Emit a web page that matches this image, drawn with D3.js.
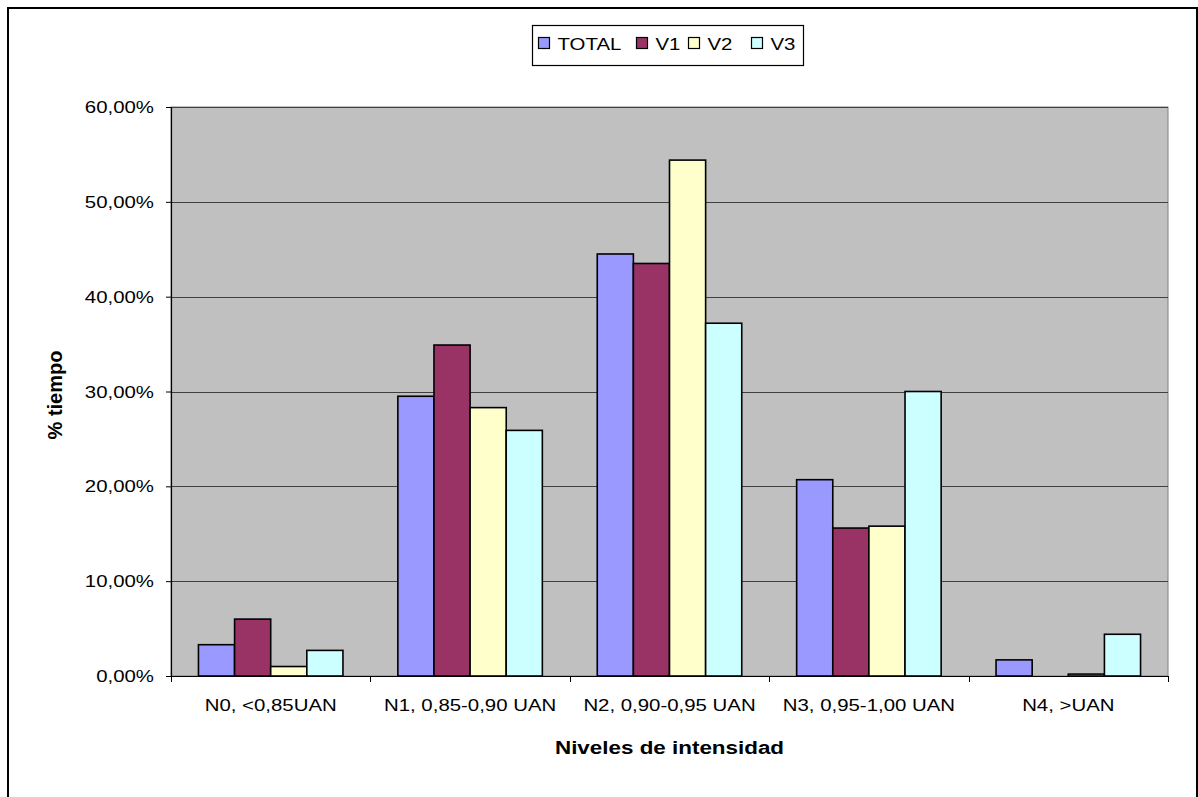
<!DOCTYPE html>
<html>
<head>
<meta charset="utf-8">
<script src="https://cdn.jsdelivr.net/npm/d3@7"></script>
<style>
  html, body { margin: 0; padding: 0; background: #fff; }
  svg { display: block; }
  text { font-family: "Liberation Sans", Arial, sans-serif; fill: #000; }
</style>
</head>
<body>
<svg id="chart" width="1198" height="797"></svg>
<script>
// Percent of time spent at each intensity level
const categories = ["N0, <0,85UAN", "N1, 0,85-0,90 UAN", "N2, 0,90-0,95 UAN", "N3, 0,95-1,00 UAN", "N4, >UAN"];
const seriesNames = ["TOTAL", "V1", "V2", "V3"];
const totalValues = [3.3, 29.5, 44.5, 20.7, 1.7];
const v1Values    = [6.0, 34.9, 43.5, 15.6, 0.0];
const v2Values    = [1.0, 28.3, 54.4, 15.8, 0.2];
const v3Values    = [2.7, 25.9, 37.2, 30.0, 4.4];
const yTicks = [0, 10, 20, 30, 40, 50, 60];
const colors = ["#9999FF", "#993366", "#FFFFCC", "#CCFFFF"];

const seriesValues = [totalValues, v1Values, v2Values, v3Values];

const svg = d3.select("#chart");
const plot = { left: 171, right: 1168, top: 107, bottom: 676 };
const SX = 1.2; // horizontal text stretch

function label(g, x, y, str, opts = {}) {
  return g.append("text")
    .attr("transform", `translate(${x},${y}) scale(${opts.sx || SX},1)`)
    .attr("text-anchor", opts.anchor || "start")
    .style("font-size", (opts.size || 17) + "px")
    .style("font-weight", opts.bold ? "bold" : "normal")
    .text(str);
}

// Outer frame
svg.append("rect")
  .attr("x", 8).attr("y", 8).attr("width", 1189).attr("height", 820)
  .attr("fill", "#fff").attr("stroke", "#000").attr("stroke-width", 2);

const x0 = d3.scaleBand().domain(categories).range([plot.left, plot.right]).paddingInner(0).paddingOuter(0);
const x1 = d3.scaleBand().domain(seriesNames).range([0, x0.bandwidth()]).paddingOuter(0.76).paddingInner(0);
const y = d3.scaleLinear().domain([0, 60]).range([plot.bottom, plot.top]);

// Plot background
svg.append("rect")
  .attr("x", plot.left).attr("y", plot.top)
  .attr("width", plot.right - plot.left).attr("height", plot.bottom - plot.top)
  .attr("fill", "#C0C0C0").attr("stroke", "#808080").attr("stroke-width", 1);

// Gridlines
svg.append("g").selectAll("line")
  .data(yTicks.filter(d => d > 0))
  .join("line")
  .attr("x1", plot.left).attr("x2", plot.right)
  .attr("y1", d => Math.round(y(d)) + 0.5).attr("y2", d => Math.round(y(d)) + 0.5)
  .attr("stroke", "#404040").attr("stroke-width", 1.2);

// Bars
const groups = svg.append("g").selectAll("g")
  .data(categories)
  .join("g")
  .attr("transform", c => `translate(${x0(c)},0)`);

groups.selectAll("rect")
  .data((c, i) => seriesNames.map((s, k) => ({ s, k, v: seriesValues[k][i] })))
  .join("rect")
  .filter(d => d.v > 0)
  .attr("x", d => x1(d.s))
  .attr("y", d => y(d.v))
  .attr("width", x1.bandwidth())
  .attr("height", d => y(0) - y(d.v))
  .attr("fill", d => colors[d.k])
  .attr("stroke", "#000")
  .attr("stroke-width", 1.6);

// Y axis
const yAxis = d3.axisLeft(y).tickValues(yTicks).tickSize(5).tickFormat("");
const yg = svg.append("g").attr("transform", `translate(${plot.left},0)`).call(yAxis);
yg.select(".domain").attr("stroke", "#000").attr("stroke-width", 1.2);
yg.selectAll(".tick line").attr("stroke", "#000");
yTicks.forEach(t => {
  label(svg, plot.left - 17, y(t) + 6, t.toFixed(2).replace(".", ",") + "%", { anchor: "end" });
});

// X axis
svg.append("line")
  .attr("x1", plot.left - 5).attr("x2", plot.right)
  .attr("y1", plot.bottom + 0.5).attr("y2", plot.bottom + 0.5)
  .attr("stroke", "#000").attr("stroke-width", 1.2);
const bounds = categories.map(c => x0(c)).concat([plot.right]);
svg.append("g").selectAll("line")
  .data(bounds)
  .join("line")
  .attr("x1", d => Math.round(d) + 0.5).attr("x2", d => Math.round(d) + 0.5)
  .attr("y1", plot.bottom).attr("y2", plot.bottom + 6)
  .attr("stroke", "#000");
categories.forEach(c => {
  label(svg, x0(c) + x0.bandwidth() / 2, 711, c, { anchor: "middle" });
});

// Axis titles
label(svg, (plot.left + plot.right) / 2, 754, "Niveles de intensidad", { anchor: "middle", bold: true, size: 19, sx: 1.18 });
svg.append("text")
  .attr("transform", `translate(62,395) rotate(-90)`)
  .attr("text-anchor", "middle")
  .style("font-size", "20px")
  .style("font-weight", "bold")
  .text("% tiempo");

// Legend
const lg = svg.append("g");
lg.append("rect")
  .attr("x", 532.5).attr("y", 25.5).attr("width", 271).attr("height", 40)
  .attr("fill", "#fff").attr("stroke", "#000").attr("stroke-width", 1.2);
const legendX = [538.5, 636.5, 688.5, 751.5];
seriesNames.forEach((s, k) => {
  lg.append("rect")
    .attr("x", legendX[k]).attr("y", 37.5).attr("width", 11).attr("height", 11)
    .attr("fill", colors[k]).attr("stroke", "#000").attr("stroke-width", 1.2);
  label(lg, legendX[k] + 19, 50, s, { size: 17 });
});
</script>
</body>
</html>
